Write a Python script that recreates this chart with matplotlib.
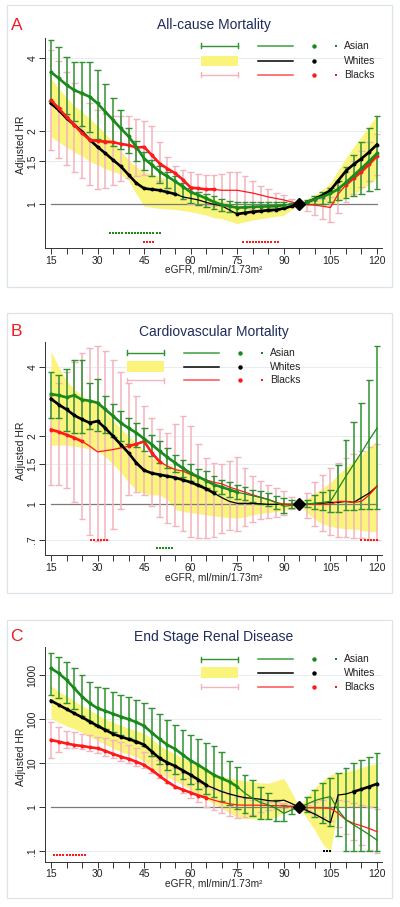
import numpy as np
import matplotlib
matplotlib.use("Agg")
import matplotlib.pyplot as plt
from matplotlib.lines import Line2D
from matplotlib.patches import Rectangle

plt.rcParams['font.family'] = ['Liberation Sans', 'DejaVu Sans']

W, H = 400, 907

# eGFR grid (ml/min/1.73m2)
egfr = [15, 17.5, 20, 22.5, 25, 27.5, 30, 32.5, 35, 37.5, 40, 42.5, 45, 47.5, 50,
        52.5, 55, 57.5, 60, 62.5, 65, 67.5, 70, 72.5, 75, 77.5, 80, 82.5, 85, 87.5,
        90, 92.5, 95, 97.5, 100, 102.5, 105, 107.5, 110, 112.5, 115, 117.5, 120]
ref_egfr, ref_hr = 95, 1.0

# ---- A: all-cause mortality ----
asian_hr_A = [3.50, 3.30, 3.10, 2.95, 2.86, 2.77, 2.60, 2.40, 2.22, 2.05, 1.90, 1.72, 1.54,
              1.45, 1.36, 1.30, 1.24, 1.18, 1.12, 1.09, 1.055, 1.02, 0.995, 0.98, 0.966, 0.97,
              0.975, 0.977, 0.978, 0.98, 0.99, 0.997, 1.0,
              1.022, 1.049, 1.072, 1.106, 1.153, 1.228, 1.313, 1.403, 1.504, 1.618]
asian_hi_A = [4.74, 4.43, 4.05, 3.86, 3.85, 3.86, 3.57, 3.14, 2.73, 2.44, 2.05, 1.82, 1.64,
              1.52, 1.43, 1.36, 1.30, 1.22, 1.17, 1.12, 1.10, 1.08, 1.05, 1.03, 1.02, 1.02,
              1.02, 1.02, 1.02, 1.02, 1.02, 1.01, 1.0,
              1.04, 1.08, 1.12, 1.17, 1.25, 1.42, 1.60, 1.80, 2.05, 2.31]
asian_lo_A = [2.65, 2.50, 2.35, 2.20, 2.10, 1.98, 1.86, 1.80, 1.74, 1.68, 1.62, 1.50, 1.38,
              1.30, 1.22, 1.16, 1.10, 1.05, 1.01, 0.99, 0.97, 0.95, 0.94, 0.93, 0.92, 0.925,
              0.93, 0.935, 0.94, 0.945, 0.96, 0.98, 1.0,
              1.0, 1.0, 1.0, 1.02, 1.04, 1.06, 1.08, 1.10, 1.13, 1.15]
white_hr_A = [2.60, 2.44, 2.26, 2.12, 1.99, 1.84, 1.72, 1.62, 1.52, 1.43, 1.32, 1.22, 1.16,
              1.15, 1.14, 1.12, 1.10, 1.07, 1.055, 1.04, 1.016, 0.997, 0.984, 0.945, 0.91, 0.92,
              0.93, 0.935, 0.945, 0.947, 0.96, 0.98, 1.0,
              1.02, 1.05, 1.09, 1.14, 1.25, 1.37, 1.46, 1.54, 1.64, 1.76]
white_hi_A = [3.30, 3.00, 2.75, 2.55, 2.40, 2.25, 2.10, 1.95, 1.80, 1.65, 1.52, 1.42, 1.36,
              1.33, 1.30, 1.26, 1.22, 1.17, 1.12, 1.10, 1.08, 1.05, 1.03, 1.01, 0.99, 0.99,
              0.985, 0.985, 0.985, 0.985, 0.985, 0.99, 1.0,
              1.05, 1.09, 1.15, 1.22, 1.38, 1.55, 1.72, 1.90, 2.10, 2.33]
white_lo_A = [1.90, 1.80, 1.72, 1.64, 1.58, 1.50, 1.45, 1.40, 1.36, 1.33, 1.25, 1.10, 0.98,
              0.97, 0.96, 0.955, 0.95, 0.94, 0.93, 0.915, 0.90, 0.88, 0.87, 0.85, 0.83, 0.845,
              0.86, 0.87, 0.88, 0.89, 0.90, 0.95, 1.0,
              0.99, 0.99, 0.99, 0.99, 1.02, 1.06, 1.10, 1.15, 1.21, 1.28]
black_hr_A = [2.68, 2.48, 2.29, 2.12, 1.96, 1.84, 1.82, 1.81, 1.80, 1.77, 1.75, 1.71, 1.72,
              1.59, 1.47, 1.40, 1.34, 1.26, 1.17, 1.16, 1.15, 1.15, 1.14, 1.14, 1.14, 1.125,
              1.11, 1.09, 1.07, 1.055, 1.04, 1.02, 1.0,
              0.995, 0.99, 0.98, 0.968, 1.10, 1.20, 1.28, 1.36, 1.46, 1.58]
black_hi_A = [4.30, 3.90, 3.50, 3.15, 2.85, 2.60, 2.45, 2.35, 2.30, 2.30, 2.30, 2.25, 2.20,
              2.10, 1.80, 1.56, 1.44, 1.38, 1.35, 1.33, 1.32, 1.32, 1.33, 1.35, 1.36, 1.30,
              1.24, 1.19, 1.15, 1.11, 1.09, 1.05, 1.0,
              1.02, 1.03, 1.05, 1.07, 1.20, 1.35, 1.50, 1.65, 1.80, 1.95]
black_lo_A = [1.67, 1.55, 1.45, 1.35, 1.28, 1.20, 1.15, 1.16, 1.20, 1.25, 1.28, 1.30, 1.32,
              1.30, 1.25, 1.17, 1.10, 1.05, 1.00, 0.99, 0.99, 0.98, 0.98, 0.97, 0.97, 0.96,
              0.95, 0.95, 0.95, 0.95, 0.96, 0.98, 1.0,
              0.94, 0.90, 0.87, 0.84, 0.92, 1.02, 1.10, 1.18, 1.25, 1.32]
asian_sig_A = [(15, 90), (97.5, 120)]
white_sig_A = [(15, 45), (47.5, 55), (75, 92.5), (97.5, 120)]
black_sig_A = [(15, 67.5), (110, 120)]
asian_diff_A = list(range(34, 51))
black_diff_A = list(range(45, 49)) + list(range(77, 89))
asian_diff_y_A, black_diff_y_A = 0.757, 0.695

# ---- B: cardiovascular mortality ----
asian_hr_B = [3.05, 3.01, 2.95, 3.01, 2.88, 2.85, 2.79, 2.61, 2.44, 2.28, 2.16, 2.06, 1.94,
              1.83, 1.71, 1.61, 1.52, 1.44, 1.37, 1.32, 1.27, 1.22, 1.19, 1.16, 1.13, 1.11,
              1.09, 1.07, 1.05, 1.02, 0.98, 0.99, 1.0,
              1.005, 1.01, 1.02, 1.03, 1.17, 1.33, 1.50, 1.69, 1.92, 2.16]
asian_hi_B = [3.83, 3.70, 3.95, 4.30, 4.30, 3.40, 3.55, 3.00, 2.75, 2.56, 2.40, 2.28, 2.16,
              2.02, 1.89, 1.77, 1.65, 1.57, 1.50, 1.43, 1.40, 1.33, 1.28, 1.25, 1.22, 1.19,
              1.16, 1.14, 1.12, 1.09, 1.07, 1.04, 1.0,
              1.05, 1.10, 1.13, 1.16, 1.49, 1.92, 2.30, 2.79, 3.53, 4.95]
asian_lo_B = [2.40, 2.40, 2.10, 2.05, 2.05, 2.15, 2.10, 2.05, 1.98, 1.90, 1.85, 1.78, 1.72,
              1.63, 1.52, 1.45, 1.38, 1.32, 1.27, 1.22, 1.18, 1.14, 1.11, 1.08, 1.06, 1.04,
              1.02, 1.00, 0.98, 0.95, 0.92, 0.96, 1.0,
              0.97, 0.95, 0.94, 0.93, 0.93, 0.94, 0.94, 0.95, 0.95, 0.95]
white_hr_B = [2.91, 2.74, 2.61, 2.46, 2.36, 2.28, 2.32, 2.16, 1.99, 1.83, 1.68, 1.52, 1.41,
              1.37, 1.35, 1.33, 1.31, 1.28, 1.25, 1.21, 1.17, 1.12, 1.07, 1.03, 1.01, 1.01,
              1.01, 1.005, 1.0, 1.0, 1.0, 1.0, 1.0,
              1.0, 1.01, 1.01, 1.02, 1.02, 1.03, 1.02, 1.07, 1.12, 1.20]
white_hi_B = [4.70, 4.00, 3.50, 3.20, 3.00, 2.85, 2.75, 2.55, 2.35, 2.15, 2.00, 1.85, 1.72,
              1.60, 1.55, 1.50, 1.45, 1.40, 1.36, 1.30, 1.25, 1.20, 1.17, 1.14, 1.12, 1.10,
              1.08, 1.06, 1.05, 1.03, 1.02, 1.01, 1.0,
              1.06, 1.12, 1.18, 1.25, 1.35, 1.45, 1.55, 1.65, 1.78, 1.90]
white_lo_B = [1.82, 1.82, 1.82, 1.80, 1.78, 1.75, 1.72, 1.62, 1.50, 1.38, 1.25, 1.15, 1.12,
              1.10, 1.10, 1.05, 0.95, 0.93, 0.92, 0.91, 0.90, 0.89, 0.88, 0.875, 0.87, 0.88,
              0.90, 0.91, 0.92, 0.93, 0.94, 0.97, 1.0,
              0.92, 0.86, 0.82, 0.80, 0.79, 0.78, 0.78, 0.77, 0.76, 0.76]
black_hr_B = [2.13, 2.08, 2.02, 1.96, 1.89, 1.80, 1.70, 1.72, 1.74, 1.77, 1.80, 1.84, 1.89,
              1.68, 1.54, 1.47, 1.42, 1.40, 1.35, 1.31, 1.28, 1.25, 1.23, 1.19, 1.16, 1.13,
              1.10, 1.075, 1.05, 1.02, 1.0, 1.0, 1.0,
              1.0, 1.0, 1.0, 1.0, 1.03, 1.03, 1.02, 1.03, 1.10, 1.20]
black_hi_B = [3.00, 3.40, 3.80, 4.20, 4.60, 4.85, 4.95, 4.70, 4.30, 3.80, 3.40, 3.00, 2.70,
              2.40, 2.15, 2.05, 2.25, 2.45, 2.20, 1.85, 1.60, 1.52, 1.50, 1.55, 1.62, 1.45,
              1.33, 1.27, 1.22, 1.18, 1.15, 1.08, 1.0,
              1.12, 1.25, 1.35, 1.45, 1.52, 1.60, 1.66, 1.72, 1.78, 1.85]
black_lo_B = [1.22, 1.22, 1.18, 1.02, 0.86, 0.73, 0.69, 0.70, 0.78, 0.95, 1.10, 1.13, 1.10,
              0.98, 0.88, 0.83, 0.80, 0.76, 0.72, 0.71, 0.71, 0.72, 0.75, 0.77, 0.76, 0.80,
              0.84, 0.86, 0.87, 0.88, 0.90, 0.95, 1.0,
              0.87, 0.80, 0.76, 0.73, 0.72, 0.72, 0.71, 0.71, 0.70, 0.70]
asian_sig_B = [(15, 75)]
white_sig_B = [(15, 67.5)]
black_sig_B = [(15, 25), (40, 50)]
asian_diff_B = list(range(49, 55))
black_diff_B = list(range(28, 34)) + list(range(115, 121))
asian_diff_y_B, black_diff_y_B = 0.64, 0.70

# ---- C: end stage renal disease ----
asian_hr_C = [1419, 1096, 771, 500, 324, 228, 176, 153, 131, 114, 99, 85, 70,
              49, 35, 26, 21, 15.4, 11.4, 9.1, 7.0, 5.4, 4.5, 3.8, 2.94, 2.08,
              1.6, 1.28, 1.13, 0.95, 0.73, 0.87, 1.0,
              1.19, 1.42, 1.6, 1.75, 0.87, 0.52, 0.40, 0.31, 0.24, 0.18]
asian_hi_C = [3214, 2600, 2000, 1420, 1000, 700, 545, 500, 420, 350, 312, 270, 236,
              175, 131, 95, 73, 58, 44, 35, 28, 24, 18, 11, 8, 5.5,
              4.2, 2.9, 2.1, 1.47, 1.13, 1.05, 1.0,
              1.75, 2.5, 3.5, 4.5, 5.9, 7.6, 10, 11.8, 14, 16.8]
asian_lo_C = [350, 300, 230, 170, 120, 90, 70, 60, 50, 43, 37, 31, 25,
              14.5, 9.5, 7, 5.8, 4.4, 3.3, 2.6, 2.0, 1.7, 1.4, 1.15, 0.9, 0.75,
              0.62, 0.55, 0.55, 0.5, 0.48, 0.7, 1.0,
              0.8, 0.6, 0.45, 0.38, 0.22, 0.1, 0.1, 0.1, 0.1, 0.1]
white_hr_C = [262, 210, 169, 135, 110, 88, 70, 57, 46, 40, 35, 31, 26,
              18.3, 12.9, 10.3, 8.6, 6.8, 5.4, 4.2, 3.2, 2.7, 2.27, 2.0, 1.8, 1.65,
              1.6, 1.52, 1.42, 1.38, 1.45, 1.22, 1.0,
              0.84, 0.7, 0.56, 0.45, 1.9, 2.0, 2.27, 2.56, 2.94, 3.4]
white_hi_C = [560, 420, 330, 260, 200, 160, 125, 100, 85, 72, 62, 55, 48,
              35, 25, 20, 16, 13, 10.5, 8.5, 7, 5.5, 5.0, 4.6, 4.3, 4.0,
              3.8, 3.6, 3.5, 4.0, 4.5, 2.2, 1.0,
              1.8, 2.8, 4.0, 5.5, 6.0, 6.5, 7.0, 8.0, 9.0, 10.0]
white_lo_C = [104, 85, 70, 60, 50, 40, 33, 27, 22, 18, 16, 14, 11,
              8, 6, 4.8, 4.0, 3.2, 2.5, 1.9, 1.5, 1.2, 0.95, 0.75, 0.6, 0.55,
              0.55, 0.55, 0.55, 0.6, 0.8, 0.9, 1.0,
              0.55, 0.3, 0.15, 0.1, 1.0, 1.0, 1.0, 1.0, 1.0, 1.0]
black_hr_C = [33.6, 30.8, 28, 25.8, 24.6, 23, 21.8, 19, 16.2, 14.1, 12.5, 10.8, 9.1,
              7.0, 5.1, 3.8, 2.94, 2.5, 2.15, 1.85, 1.65, 1.45, 1.3, 1.2, 1.13, 1.12,
              1.12, 1.11, 1.1, 1.09, 1.07, 1.04, 1.0,
              0.98, 0.97, 0.96, 0.95, 0.73, 0.52, 0.43, 0.38, 0.33, 0.28]
black_hi_C = [88, 67, 55, 50, 47, 43, 40, 37, 34, 30, 26, 22, 18,
              14.5, 11.8, 9.5, 7.7, 6.0, 4.5, 3.6, 2.9, 2.6, 2.3, 2.0, 1.75, 1.6,
              1.47, 1.4, 1.35, 1.3, 1.23, 1.12, 1.0,
              1.15, 1.3, 1.45, 1.6, 1.5, 1.4, 1.25, 1.1, 1.0, 0.9]
black_lo_C = [12.9, 18, 22, 22, 20.6, 18.5, 16.8, 14.8, 12.9, 11.3, 10, 8.8, 7.7,
              6.0, 4.5, 3.5, 2.7, 2.1, 1.6, 1.3, 1.03, 0.85, 0.73, 0.63, 0.56, 0.6,
              0.67, 0.77, 0.87, 0.93, 0.97, 0.99, 1.0,
              0.85, 0.7, 0.6, 0.5, 0.35, 0.25, 0.18, 0.14, 0.11, 0.09]
asian_sig_C = [(15, 75)]
white_sig_C = [(15, 65), (112.5, 120)]
black_sig_C = [(15, 65)]
black_diff_C = list(range(16, 27))
white_diff_C = [103, 104, 105]
black_diff_y_C, white_diff_y_C = 0.083, 0.1

GREEN = '#1a8a1a'
GREEN_BAR = '#2f922f'
PINK = '#f4b4bd'
RED = '#ff1a1a'
YELLOW = '#faf37c'
NAVY = '#1f2b5c'

panels = [
    dict(letter='A', title='All-cause Mortality', box=(45, 38, 382, 248), frame=(5, 287),
         title_y=25, ylim=(0.659, 4.84), yticks=[1, 1.5, 2, 4], ylabels=['1', '1.5', '2', '4'],
         asian=(asian_hr_A, asian_lo_A, asian_hi_A, asian_sig_A),
         white=(white_hr_A, white_lo_A, white_hi_A, white_sig_A),
         black=(black_hr_A, black_lo_A, black_hi_A, black_sig_A),
         diffs=[(asian_diff_A, asian_diff_y_A, GREEN), (black_diff_A, black_diff_y_A, RED)],
         leg_x=201, leg_rows=(45.7, 61, 74.5)),
    dict(letter='B', title='Cardiovascular Mortality', box=(45, 341.7, 382, 555), frame=(313, 593),
         title_y=331.7, ylim=(0.599, 5.18), yticks=[0.7, 1, 1.5, 2, 4],
         ylabels=['.7', '1', '1.5', '2', '4'],
         asian=(asian_hr_B, asian_lo_B, asian_hi_B, asian_sig_B),
         white=(white_hr_B, white_lo_B, white_hi_B, white_sig_B),
         black=(black_hr_B, black_lo_B, black_hi_B, black_sig_B),
         diffs=[(asian_diff_B, asian_diff_y_B, GREEN), (black_diff_B, black_diff_y_B, RED)],
         leg_x=126.7, leg_rows=(352.7, 366.7, 380)),
    dict(letter='C', title='End Stage Renal Disease', box=(45, 646.7, 382, 861.7), frame=(620, 898),
         title_y=636.7, ylim=(0.0584, 4385), yticks=[0.1, 1, 10, 100, 1000],
         ylabels=['.1', '1', '10', '100', '1000'],
         asian=(asian_hr_C, asian_lo_C, asian_hi_C, asian_sig_C),
         white=(white_hr_C, white_lo_C, white_hi_C, white_sig_C),
         black=(black_hr_C, black_lo_C, black_hi_C, black_sig_C),
         diffs=[(black_diff_C, black_diff_y_C, RED), (white_diff_C, white_diff_y_C, 'black')],
         leg_x=201, leg_rows=(659.3, 672.7, 686.7)),
]

for p in panels:
    for grp in ('asian', 'white', 'black'):
        for arr in p[grp][:3]:
            assert len(arr) == len(egfr), (p['letter'], grp)

fig = plt.figure(figsize=(W / 100, H / 100), dpi=100)
x = np.array(egfr)


def fx(px):
    return px / W


def fy(py):
    return 1 - py / H


def sig_mask(ranges):
    m = np.zeros(len(x), bool)
    for a, b in ranges:
        m |= (x >= a) & (x <= b)
    return m


def rcap(ax, lo, hi, color, z):
    ax.vlines(x, lo, hi, color=color, lw=1.1, zorder=z)
    for v in (lo, hi):
        ax.hlines(v, x - 1.1, x + 1.1, color=color, lw=1.0, zorder=z)


def hr_line(ax, hr, sig, color, z):
    hr = np.array(hr, float)
    ax.plot(x, hr, color=color, lw=0.9, zorder=z)
    m = sig_mask(sig)
    ax.plot(x, np.where(m, hr, np.nan), color=color, lw=1.9, marker='o', ms=2.8,
            mew=0, zorder=z + 0.5)


def draw_legend(x0, rows):
    y1, y2, y3 = rows
    entries = [(y1, 'cap', GREEN_BAR, '#3f9f3f', GREEN, GREEN, 'Asian'),
               (y2, 'area', None, 'black', 'black', None, 'Whites'),
               (y3, 'cap', PINK, '#ff5050', RED, RED, 'Blacks')]
    for y, kind, ccol, lcol, dcol, scol, label in entries:
        if kind == 'cap':
            fig.add_artist(Line2D([fx(x0), fx(x0 + 37)], [fy(y), fy(y)], color=ccol, lw=1.0))
            for xe in (x0, x0 + 37):
                fig.add_artist(Line2D([fx(xe), fx(xe)], [fy(y - 2.5), fy(y + 2.5)], color=ccol, lw=1.0))
        else:
            fig.add_artist(Rectangle((fx(x0), fy(y + 5.3)), 37 / W, 10.6 / H,
                                     transform=fig.transFigure, fc=YELLOW, ec='none'))
        fig.add_artist(Line2D([fx(x0 + 57), fx(x0 + 92)], [fy(y), fy(y)], color=lcol, lw=1.1))
        fig.add_artist(Line2D([fx(x0 + 113)], [fy(y)], marker='o', ms=3.2, mew=0, color=dcol))
        if scol:
            fig.add_artist(Line2D([fx(x0 + 135)], [fy(y)], marker='s', ms=1.6, mew=0, color=scol))
        fig.text(fx(x0 + 143), fy(y), label, fontsize=7.4, ha='left', va='center', color='#222222')


for p in panels:
    left, top, right, bottom = p['box']
    ax = fig.add_axes([fx(left), fy(bottom), (right - left) / W, (bottom - top) / H])
    ax.set_yscale('log')
    ax.set_xlim(13.07, 121.61)
    ax.set_ylim(*p['ylim'])

    for t in p['yticks']:
        if t != 1:
            ax.axhline(t, color='#e5edf1', lw=0.7, zorder=0)

    hr, lo, hi, sig = p['white']
    ax.fill_between(x, lo, hi, color=YELLOW, lw=0, zorder=1)
    ax.plot([egfr[0], egfr[-1]], [ref_hr, ref_hr], color='#7a7a7a', lw=0.9, zorder=1.5)

    bhr, blo, bhi, bsig = p['black']
    rcap(ax, blo, bhi, PINK, 2)
    ahr, alo, ahi, asig = p['asian']
    rcap(ax, alo, ahi, GREEN_BAR, 3)

    hr_line(ax, hr, sig, 'black', 4)
    hr_line(ax, bhr, bsig, RED, 4.2)
    hr_line(ax, ahr, asig, GREEN, 4.4)

    for xs, yv, col in p['diffs']:
        ax.plot(xs, [yv] * len(xs), ls='none', marker='s', ms=1.7, mew=0, color=col, zorder=5)

    ax.plot([ref_egfr], [ref_hr], marker='D', ms=6, color='black', zorder=7)

    ax.set_xticks([15, 30, 45, 60, 75, 90, 105, 120])
    ax.set_xticks(np.arange(20, 120, 5), minor=True)
    ax.set_yticks(p['yticks'])
    ax.set_yticklabels(p['ylabels'])
    ax.yaxis.set_minor_locator(matplotlib.ticker.NullLocator())
    ax.tick_params(axis='both', which='both', direction='out', length=4, width=0.7,
                   color='#333333', labelsize=7.5, labelcolor='#222222')
    ax.tick_params(axis='x', pad=1.5)
    ax.tick_params(axis='y', pad=1.5, labelrotation=90)
    for lab in ax.get_yticklabels():
        lab.set_va('center')
    for s in ('top', 'right'):
        ax.spines[s].set_visible(False)
    for s in ('left', 'bottom'):
        ax.spines[s].set_color('#333333')
        ax.spines[s].set_linewidth(0.7)
    ax.patch.set_alpha(0)

    h = bottom - top
    ax.set_xlabel('eGFR, ml/min/1.73m²', fontsize=7.3, color='#222222')
    ax.xaxis.set_label_coords(0.5, -17 / h)
    ax.set_ylabel('Adjusted HR', fontsize=7.5, color='#222222')
    ax.yaxis.set_label_coords(-(45 - 26) / (right - left), 0.49)

    ftop, fbot = p['frame']
    fig.add_artist(Rectangle((fx(7), fy(fbot)), (392 - 7) / W, (fbot - ftop) / H,
                             transform=fig.transFigure, fill=False, ec='#dde4e9', lw=0.9))
    fig.text(fx(213.5), fy(p['title_y']), p['title'], ha='center', va='center',
             fontsize=10, color=NAVY)
    fig.text(fx(16.5), fy(p['title_y']), p['letter'], ha='center', va='center',
             fontsize=12.5, color='#ee1c24')
    draw_legend(p['leg_x'], p['leg_rows'])

fig.savefig('out.png', dpi=100, facecolor='white')
